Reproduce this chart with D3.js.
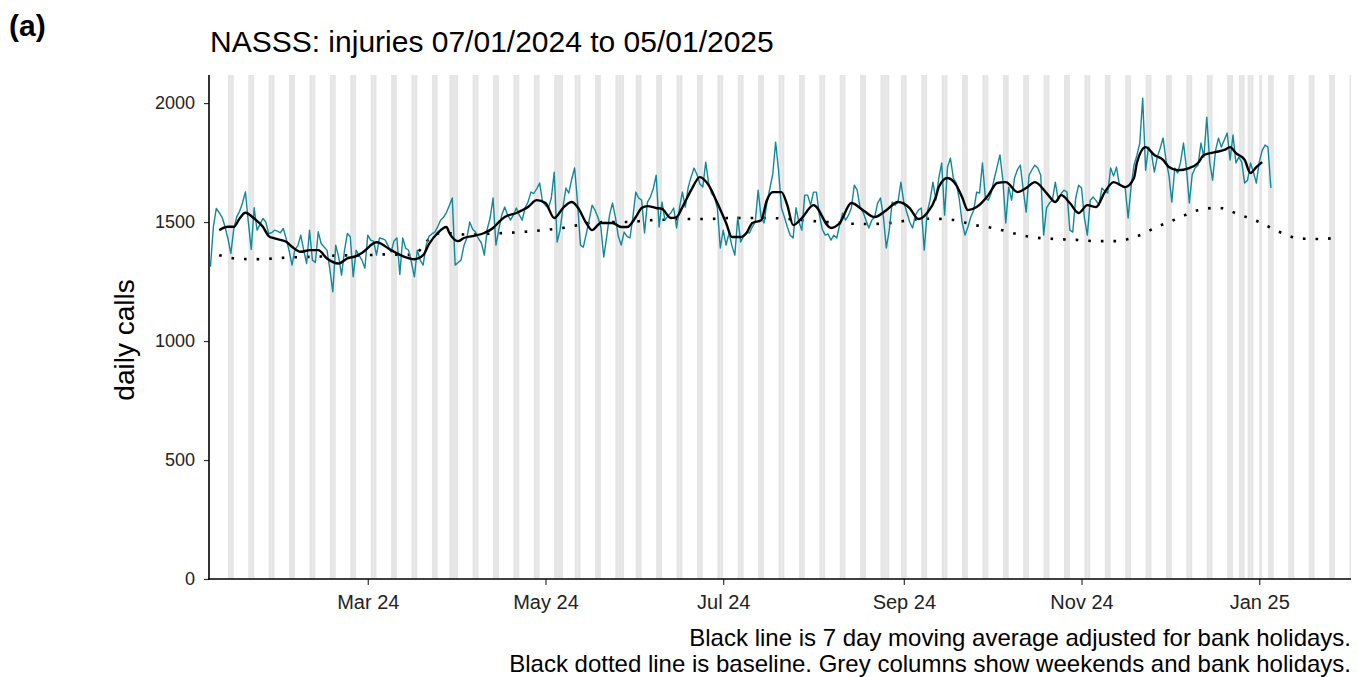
<!DOCTYPE html>
<html><head><meta charset="utf-8">
<script src="https://cdn.jsdelivr.net/npm/d3@7"></script>
<style>body{margin:0;background:#fff} svg text{font-family:"Liberation Sans",Arial,sans-serif}</style>
</head><body><svg id="c" width="1357" height="677"></svg>
<script>
// ---- data ----
const startDate = "2024-01-07";          // first day of the daily series
const dailyCalls = [
1312,1480,1557,1540,1520,1480,1430,
1368,1470,1522,1545,1580,1627,1500,
1385,1560,1466,1490,1515,1500,1452,
1455,1466,1462,1455,1473,1430,1380,
1319,1385,1400,1445,1382,1326,1466,
1340,1330,1459,1410,1395,1382,1300,
1207,1403,1354,1277,1380,1452,1438,
1270,1382,1360,1340,1306,1445,1424,
1420,1361,1433,1430,1424,1400,1374,
1420,1433,1280,1433,1390,1382,1330,
1270,1382,1340,1319,1400,1440,1450,
1458,1480,1508,1520,1540,1570,1601,
1319,1330,1340,1400,1433,1500,1470,
1458,1430,1412,1361,1470,1517,1601,
1403,1470,1530,1563,1530,1508,1530,
1559,1530,1508,1560,1584,1626,1620,
1640,1664,1584,1570,1559,1600,1710,
1416,1466,1560,1643,1622,1680,1727,
1584,1403,1395,1450,1508,1571,1550,
1520,1479,1353,1437,1530,1580,1521,
1440,1403,1458,1440,1433,1521,1626,
1601,1592,1454,1584,1605,1640,1697,
1479,1584,1508,1525,1538,1559,1475,
1560,1626,1563,1647,1690,1727,1700,
1660,1647,1752,1664,1620,1605,1559,
1391,1466,1403,1454,1400,1361,1521,
1416,1440,1458,1454,1480,1500,1634,
1521,1496,1580,1640,1700,1836,1718,
1559,1521,1480,1445,1433,1560,1500,
1466,1613,1613,1571,1626,1626,1530,
1470,1445,1450,1424,1445,1433,1490,
1538,1508,1529,1559,1655,1634,1560,
1542,1508,1475,1508,1521,1580,1601,
1521,1391,1466,1584,1571,1584,1668,
1584,1542,1500,1475,1529,1550,1559,
1382,1538,1592,1668,1592,1685,1748,
1529,1731,1769,1685,1664,1600,1500,
1445,1479,1521,1550,1626,1622,1748,
1601,1592,1622,1680,1731,1782,1676,
1496,1647,1592,1685,1720,1739,1634,
1542,1697,1720,1739,1727,1697,1445,
1560,1580,1592,1668,1592,1620,1634,
1626,1466,1458,1600,1655,1643,1517,
1445,1592,1605,1590,1571,1643,1630,
1622,1727,1693,1731,1655,1650,1643,
1517,1647,1739,1780,1832,2021,1718,
1815,1790,1710,1773,1810,1853,1760,
1697,1584,1727,1706,1752,1832,1727,
1580,1700,1727,1739,1832,1773,1941,
1752,1676,1800,1853,1815,1845,1874,
1761,1866,1748,1773,1752,1664,1676,
1748,1710,1664,1752,1800,1824,1815,
1643];

// 7-day moving average (days since start, value)
const maDays = [3,6,8,10,12,15,18,20,22,26,28,31,34,37,40,44,47,50,52,57,62,66,70,73,75,78,81,82,85,87,90,94,97,99,101,105,109,112,115,118,121,124,126,129,131,134,138,141,143,146,148,150,153,155,158,160,162,165,168,171,174,177,179,182,184,186,189,191,193,196,198,200,203,207,213,216,220,224,228,232,236,240,243,246,249,250,253,256,258,260,263,267,270,273,277,280,283,287,290,292,295,298,301,304,307,310,314,317,318,321,324,327,329,332,336,339,341,345,348,350,352,355,357,359,361];
const maValues = [1466,1480,1480,1515,1539,1515,1480,1441,1431,1417,1396,1375,1382,1382,1347,1326,1347,1357,1370,1415,1382,1357,1344,1361,1407,1454,1479,1454,1420,1433,1441,1454,1475,1500,1521,1538,1563,1592,1580,1517,1559,1584,1563,1496,1466,1496,1496,1479,1479,1521,1559,1567,1559,1555,1517,1521,1563,1634,1689,1655,1580,1496,1437,1437,1454,1496,1508,1592,1626,1626,1571,1487,1517,1571,1475,1496,1580,1550,1521,1550,1584,1559,1513,1538,1605,1647,1685,1655,1605,1550,1563,1613,1664,1668,1626,1643,1668,1622,1584,1613,1580,1538,1571,1563,1626,1668,1647,1685,1748,1815,1782,1761,1731,1718,1727,1748,1782,1794,1803,1815,1790,1761,1706,1731,1752];

// baseline (days since start, value)
const baselineDays = [3,10,17,24,31,38,45,52,59,66,70,73,76,80,87,94,101,108,115,122,129,136,143,150,157,164,171,178,185,192,199,206,213,220,227,234,241,248,255,262,269,276,283,290,297,304,311,318,325,332,339,346,353,360,367,374,381,386];
const baselineValues = [1361,1345,1344,1349,1353,1355,1360,1360,1364,1362,1362,1400,1440,1455,1448,1450,1454,1459,1467,1477,1494,1500,1500,1507,1510,1513,1513,1517,1517,1517,1512,1505,1499,1493,1492,1497,1510,1514,1509,1488,1474,1452,1435,1429,1425,1420,1420,1440,1480,1515,1550,1560,1532,1500,1458,1431,1429,1433];

const bankHolidays = ["2024-03-29","2024-05-06","2024-05-27","2024-08-26","2024-12-25","2024-12-26","2025-01-01"];
const xTickDates = ["2024-03-01","2024-05-01","2024-07-01","2024-09-01","2024-11-01","2025-01-01"];
const xTickLabels = ["Mar 24","May 24","Jul 24","Sep 24","Nov 24","Jan 25"];
const yTicks = [0,500,1000,1500,2000];
const titleText = "NASSS: injuries 07/01/2024 to 05/01/2025";
const captionLines = ["Black line is 7 day moving average adjusted for bank holidays.",
                      "Black dotted line is baseline. Grey columns show weekends and bank holidays."];

// ---- chart ----
(function () {
const svg = d3.select("#c");
const W = 1357, H = 677;
const pL = 209, pR = 1351, pT = 75, pB = 579;
const parse = d3.utcParse("%Y-%m-%d");
const t0 = parse(startDate);
const dayAt = i => d3.utcHour.offset(t0, Math.round(i * 24));

const x = d3.scaleUtc().domain([dayAt(-0.5), dayAt(391.5)]).range([pL, pR]);
const y = d3.scaleLinear().domain([0, 2118]).range([pB, pT]);

svg.append("rect").attr("width", W).attr("height", H).attr("fill", "#fff");

svg.append("clipPath").attr("id", "clip").append("rect")
  .attr("x", pL).attr("y", pT).attr("width", pR - pL).attr("height", pB - pT);

const panel = svg.append("g").attr("clip-path", "url(#clip)");

// grey columns: weekends and bank holidays
const hol = new Set(bankHolidays);
const fmt = d3.utcFormat("%Y-%m-%d");
const greyDays = d3.range(1, 395).map(dayAt).filter(d => {
  const wd = d.getUTCDay();
  return wd === 0 || wd === 6 || hol.has(fmt(d));
});
panel.selectAll("rect.wk").data(greyDays).join("rect").attr("class", "wk")
  .attr("x", d => x(d)).attr("width", d => x(d3.utcDay.offset(d, 1)) - x(d))
  .attr("y", pT).attr("height", pB - pT).attr("fill", "#e5e5e5");

// baseline dotted
const baseData = baselineDays.map((d, i) => [dayAt(d), baselineValues[i]]);
panel.append("path").datum(baseData)
  .attr("d", d3.line().x(d => x(d[0])).y(d => y(d[1])).curve(d3.curveMonotoneX))
  .attr("fill", "none").attr("stroke", "#000").attr("stroke-width", 2.6)
  .attr("stroke-dasharray", "2.6,10");

// daily calls
const daily = dailyCalls.map((v, i) => [dayAt(i), v]);
panel.append("path").datum(daily)
  .attr("d", d3.line().x(d => x(d[0])).y(d => y(d[1])))
  .attr("fill", "none").attr("stroke", "#118899").attr("stroke-width", 1.4)
  .attr("stroke-linejoin", "round");

// moving average
const maData = maDays.map((d, i) => [dayAt(d), maValues[i]]);
panel.append("path").datum(maData)
  .attr("d", d3.line().x(d => x(d[0])).y(d => y(d[1])).curve(d3.curveMonotoneX))
  .attr("fill", "none").attr("stroke", "#000").attr("stroke-width", 2.4)
  .attr("stroke-linejoin", "round");

// axes
const yAxis = d3.axisLeft(y).tickValues(yTicks).tickFormat(d3.format("d")).tickSize(5).tickPadding(9);
const gy = svg.append("g").attr("transform", `translate(${pL},0)`).call(yAxis);
gy.select(".domain").remove();
gy.selectAll(".tick line").attr("stroke", "#333").attr("stroke-width", 1.2);
gy.selectAll(".tick text").attr("fill", "#222").style("font-size", "18px");

const xAxis = d3.axisBottom(x).tickValues(xTickDates.map(parse))
  .tickFormat((d, i) => xTickLabels[i]).tickSize(6).tickPadding(10);
const gx = svg.append("g").attr("transform", `translate(0,${pB})`).call(xAxis);
gx.select(".domain").remove();
gx.selectAll(".tick line").attr("stroke", "#333").attr("stroke-width", 1.2);
gx.selectAll(".tick text").attr("fill", "#222").style("font-size", "20px");

svg.append("line").attr("x1", pL).attr("x2", pL).attr("y1", pT).attr("y2", pB + 0.8)
  .attr("stroke", "#000").attr("stroke-width", 1.6);
svg.append("line").attr("x1", pL - 0.8).attr("x2", pR).attr("y1", pB).attr("y2", pB)
  .attr("stroke", "#000").attr("stroke-width", 1.6);

// labels
svg.append("text").attr("x", 9).attr("y", 36).text("(a)")
  .style("font-size", "30px").style("font-weight", "bold");
svg.append("text").attr("x", 210).attr("y", 52).text(titleText).style("font-size", "30px");
svg.append("text").attr("transform", `translate(134,340) rotate(-90)`)
  .attr("text-anchor", "middle").text("daily calls").style("font-size", "28px");
svg.selectAll("text.cap").data(captionLines).join("text").attr("class", "cap")
  .attr("x", 1351).attr("y", (d, i) => 646 + i * 26).attr("text-anchor", "end")
  .text(d => d).style("font-size", "24px");
})();
</script></body></html>
